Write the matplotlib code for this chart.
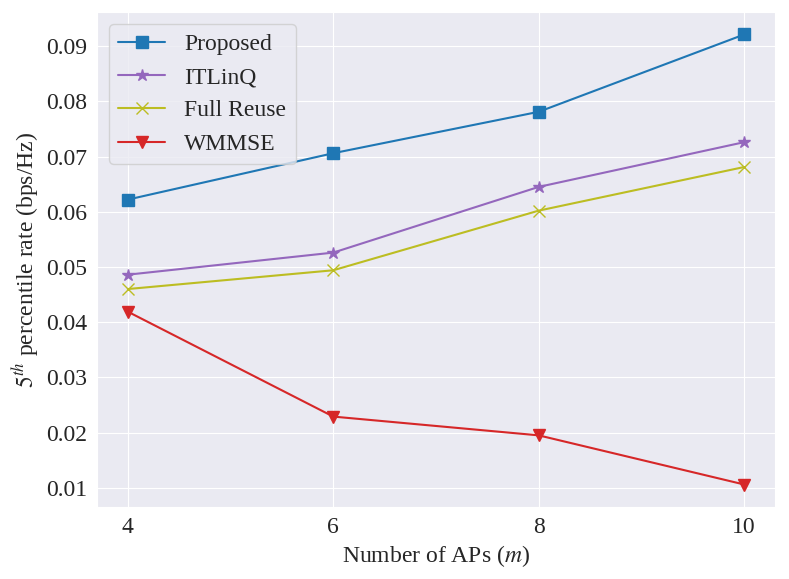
import numpy as np
import matplotlib.pyplot as plt
import seaborn as sns

aps = [4, 6, 8, 10]
proposed = [0.0622, 0.0706, 0.0781, 0.0921]
itlinq = [0.0486, 0.0526, 0.0645, 0.0726]
full_reuse = [0.0460, 0.0494, 0.0602, 0.0681]
wmmse = [0.0419, 0.0229, 0.0195, 0.0106]

sns.set_style('darkgrid')
plt.rcParams['font.family'] = ['Liberation Serif', 'DejaVu Serif']
plt.rcParams['mathtext.fontset'] = 'stix'

fig, ax = plt.subplots(figsize=(7.89, 5.79), dpi=100)
ax.plot(aps, proposed, marker='s', markersize=8, color='tab:blue', label='Proposed')
ax.plot(aps, itlinq, marker='*', markersize=9, color='tab:purple', label='ITLinQ')
ax.plot(aps, full_reuse, marker='x', markersize=8, color='tab:olive', label='Full Reuse')
ax.plot(aps, wmmse, marker='v', markersize=9, color='tab:red', label='WMMSE')

ax.set_xticks(aps)
ax.tick_params(labelsize=17)
ax.set_xlabel('Number of APs ($m$)', fontsize=17)
ax.set_ylabel('$5^{th}$ percentile rate (bps/Hz)', fontsize=17)
ax.legend(fontsize=17, loc='upper left')

plt.subplots_adjust(left=97/789, right=775/789, top=1-12/579, bottom=1-507/579)
plt.savefig('out.png')
